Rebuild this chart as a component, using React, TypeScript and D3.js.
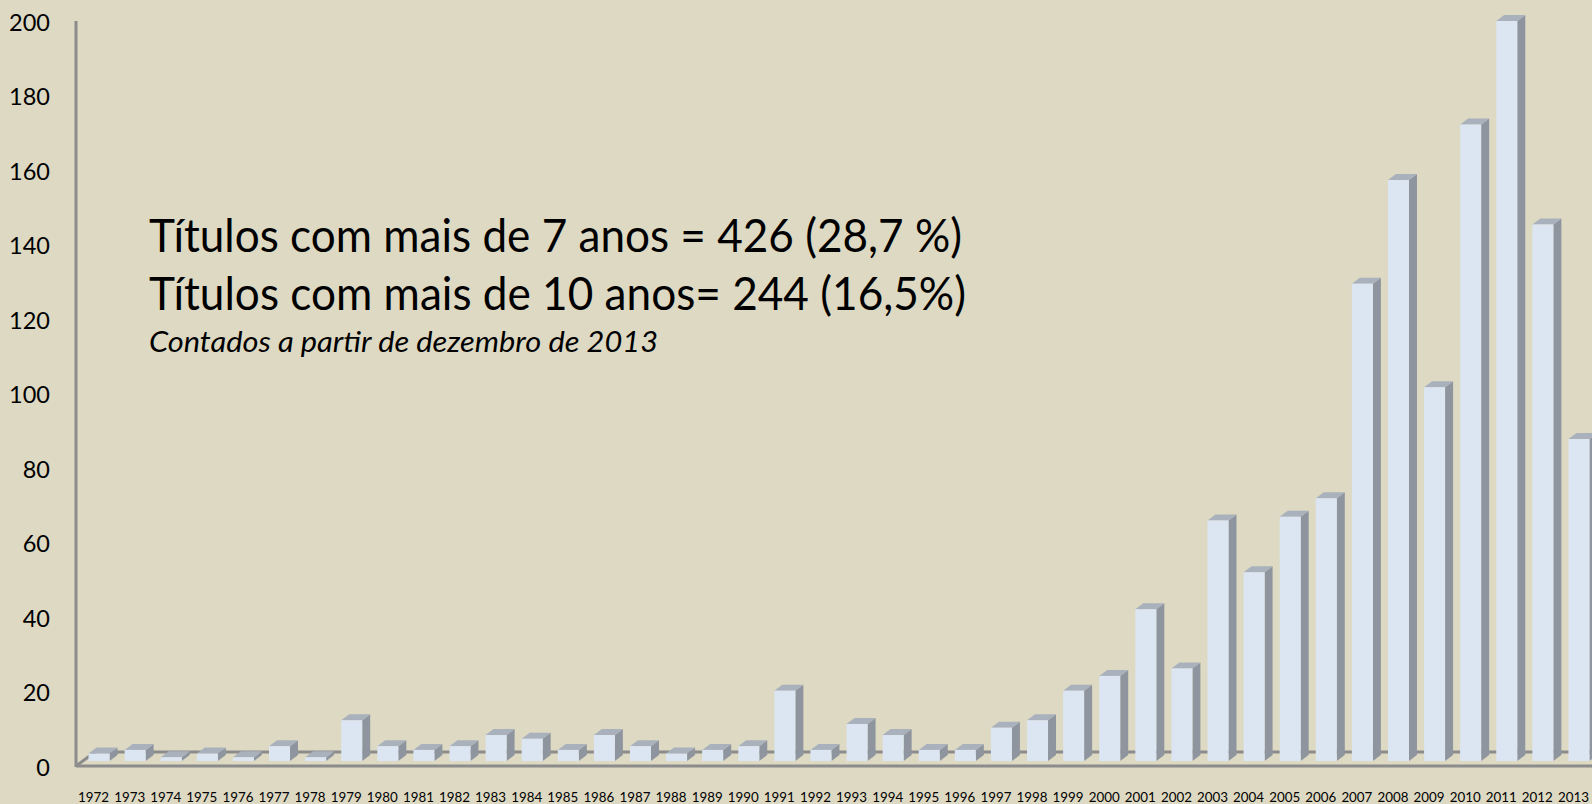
import React from "react";
import * as d3 from "d3";

const years = [
  "1972", "1973", "1974", "1975", "1976", "1977", "1978", "1979", "1980", "1981",
  "1982", "1983", "1984", "1985", "1986", "1987", "1988", "1989", "1990", "1991",
  "1992", "1993", "1994", "1995", "1996", "1997", "1998", "1999", "2000", "2001",
  "2002", "2003", "2004", "2005", "2006", "2007", "2008", "2009", "2010", "2011",
  "2012", "2013",
];
const counts = [
  2, 3, 1, 2, 1, 4, 1, 11, 4, 3,
  4, 7, 6, 3, 7, 4, 2, 3, 4, 19,
  3, 10, 7, 3, 3, 9, 11, 19, 23, 41,
  25, 65, 51, 66, 71, 129, 157, 101, 172, 200,
  145, 87,
];
const yTicks = [0, 20, 40, 60, 80, 100, 120, 140, 160, 180, 200];
const notes = [
  "Títulos com mais de 7 anos = 426 (28,7 %)",
  "Títulos com mais de 10 anos= 244 (16,5%)",
];
const subNote = "Contados a partir de dezembro de 2013";

const W = 1592, H = 804;
const FONT = "Lato, 'Open Sans', sans-serif";

export default function App() {
  const x = d3.scaleBand<string>().domain(years).range([75.5, 1591.5]).padding(0);
  const y = d3.scaleLinear().domain([0, 200]).range([761, 21]);
  const yLab = d3.scaleLinear().domain([0, 200]).range([767.5, 22.5]);

  const step = x.step();
  const frontW = 21, dx = 8, dy = 6;
  const axisColor = "#8c8c8c";

  return (
    <svg width={W} height={H} style={{ position: "absolute", left: 0, top: 0, display: "block" }}
      fontFamily={FONT}>
      <rect width={W} height={H} fill="#ddd9c3" />

      {/* floor back edge + diagonal */}
      <line x1={76} y1={766} x2={95} y2={752} stroke={axisColor} strokeWidth={3} />
      <line x1={95} y1={752} x2={W} y2={752} stroke={axisColor} strokeWidth={3} />

      {years.map((yr, i) => {
        const x0 = (x(yr) as number) + step / 2 - 5;
        const x1 = x0 + frontW;
        const top = y(counts[i]);
        const bot = y(0);
        return (
          <g key={yr}>
            <path d={`M${x1},${top}L${x1 + dx},${top - dy}L${x1 + dx},${bot - dy}L${x1},${bot}Z`} fill="#8e959e" />
            <path d={`M${x0},${top}L${x0 + dx},${top - dy}L${x1 + dx},${top - dy}L${x1},${top}Z`} fill="#a9b1bc" />
            <rect x={x0} y={top} width={frontW} height={bot - top} fill="#dce6f2" />
          </g>
        );
      })}

      {/* front floor edge and value axis */}
      <line x1={76} y1={766} x2={W} y2={766} stroke={axisColor} strokeWidth={3} />
      <line x1={76} y1={21} x2={76} y2={767} stroke={axisColor} strokeWidth={3} />

      {yTicks.map((t) => (
        <text key={t} x={50} y={yLab(t)} dy="0.36em" textAnchor="end" fontSize={23.5} fill="#000">
          {t}
        </text>
      ))}

      {years.map((yr) => (
        <text key={yr} x={(x(yr) as number) + step / 2} y={802} textAnchor="middle" fontSize={14}
          textLength={31} lengthAdjust="spacingAndGlyphs" fill="#000">
          {yr}
        </text>
      ))}

      <text x={149} y={252} fontSize={46} textLength={813} lengthAdjust="spacingAndGlyphs" fill="#000">
        {notes[0]}
      </text>
      <text x={149} y={310} fontSize={46} textLength={817} lengthAdjust="spacingAndGlyphs" fill="#000">
        {notes[1]}
      </text>
      <text x={149} y={352} fontSize={29} fontStyle="italic" textLength={509} lengthAdjust="spacingAndGlyphs" fill="#000">
        {subNote}
      </text>
    </svg>
  );
}
